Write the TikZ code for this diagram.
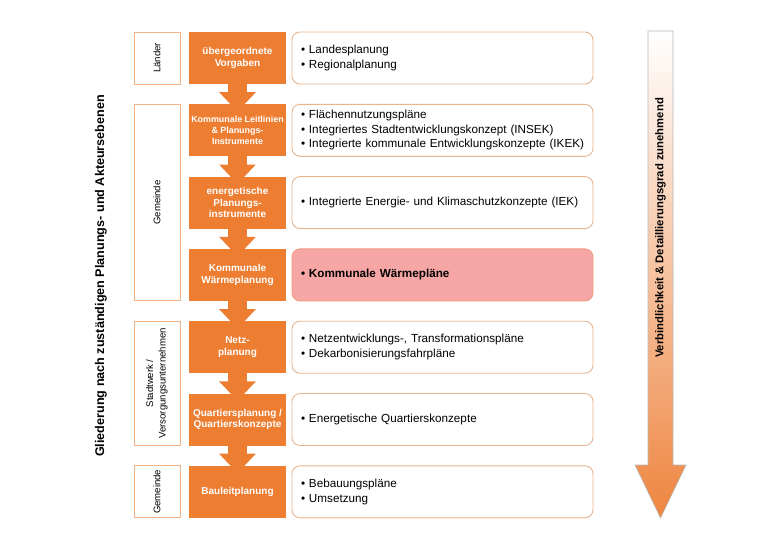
\documentclass[tikz,border=0pt]{standalone}
\usepackage{fontspec}
\setmainfont{Liberation Sans}
\usetikzlibrary{calc}
\definecolor{org}{HTML}{ED7D31}
\definecolor{actorline}{HTML}{F4B183}
\definecolor{itemline}{HTML}{E8B48E}
\definecolor{pinkfill}{HTML}{F6A6A4}
\definecolor{arrowline}{HTML}{B8B8B8}
\definecolor{arrowbot}{HTML}{EE8540}
\begin{document}
\begin{tikzpicture}[x=1pt,y=-1pt,
  stepbox/.style={fill=org, text=white, font=\fontsize{10}{11.5}\selectfont\bfseries,
    minimum width=97pt, minimum height=52pt, align=center, inner sep=0pt},
  itembox/.style={draw=itemline, line width=0.9pt, rounded corners=8pt, fill=white,
    minimum height=52pt, text width=283pt, inner xsep=9pt, inner ysep=0pt, align=left,
    font=\fontsize{11.7}{14.5}\selectfont},
  actorbox/.style={draw=actorline, line width=1pt, fill=white, minimum width=46pt,
    inner sep=0pt},
  actortext/.style={rotate=90, align=center, font=\fontsize{9.6}{12.5}\selectfont},
  flowarrow/.style={fill=org, draw=none},
  axislabel/.style={font=\fontsize{12.6}{14}\selectfont\bfseries, rotate=90}
]
\useasboundingbox (0,0) rectangle (780,547);

% actor boxes
\node[actorbox, minimum height=52pt] (a1) at (157,58) {};
\node[actortext] (t1) at (a1.center) {Länder};
\node[actorbox, minimum height=196.6pt] (a2) at (157,202.6) {};
\node[actortext] (t2) at (a2.center) {Gemeinde};
\node[actorbox, minimum height=124.3pt] (a3) at (157,383.35) {};
\node[actortext] (t3) at (a3.center) {Stadtwerk /\\Versorgungsunternehmen};
\node[actorbox, minimum height=52pt] (a4) at (157,491.8) {};
\node[actortext] (t4) at (a4.center) {Gemeinde};

% step boxes
\node[stepbox] (s1) at (237.5,58) {übergeordnete\\Vorgaben};
\node[stepbox, font=\fontsize{8.9}{11.2}\selectfont\bfseries] (s2) at (237.5,130.3) {Kommunale Leitlinien\\\& Planungs-\\Instrumente};
\node[stepbox] (s3) at (237.5,202.6) {energetische\\Planungs-\\instrumente};
\node[stepbox] (s4) at (237.5,274.9) {Kommunale\\Wärmeplanung};
\node[stepbox] (s5) at (237.5,347.2) {Netz-\\planung};
\node[stepbox] (s6) at (237.5,419.5) {Quartiersplanung /\\Quartierskonzepte};
\node[stepbox] (s7) at (237.5,491.8) {Bauleitplanung};

% flow arrows
\foreach \a/\b in {s1/s2,s2/s3,s3/s4,s4/s5,s5/s6,s6/s7}{
  \fill[flowarrow] ($(\a.south)+(-9.3,-1)$) -- ($(\a.south)+(-9.3,8)$) -- ($(\a.south)+(-18.4,8)$)
    -- ($(\b.north)+(0,7.5)$) -- ($(\a.south)+(18.4,8)$) -- ($(\a.south)+(9.3,8)$)
    -- ($(\a.south)+(9.3,-1)$) -- cycle;
}

% item boxes
\node[itembox] (i1) at (442.5,58) {\mbox{\textbullet{} Landesplanung}\\\mbox{\textbullet{} Regionalplanung}};
\node[itembox] (i2) at (442.5,130.3) {\mbox{\textbullet{} Flächennutzungspläne}\\\mbox{\textbullet{} Integriertes Stadtentwicklungskonzept (INSEK)}\\\mbox{\textbullet{} Integrierte kommunale Entwicklungskonzepte (IKEK)}};
\node[itembox] (i3) at (442.5,202.6) {\mbox{\textbullet{} Integrierte Energie- und Klimaschutzkonzepte (IEK)}};
\node[itembox, fill=pinkfill, draw=pinkfill!70!org] (i4) at (442.5,274.9) {\mbox{\bfseries\textbullet{} Kommunale Wärmepläne}};
\node[itembox] (i5) at (442.5,347.2) {\mbox{\textbullet{} Netzentwicklungs-, Transformationspläne}\\\mbox{\textbullet{} Dekarbonisierungsfahrpläne}};
\node[itembox] (i6) at (442.5,419.5) {\mbox{\textbullet{} Energetische Quartierskonzepte}};
\node[itembox] (i7) at (442.5,491.8) {\mbox{\textbullet{} Bebauungspläne}\\\mbox{\textbullet{} Umsetzung}};

% big arrow
\shade[top color=white, bottom color=arrowbot, draw=arrowline, line width=0.6pt]
  (648,31) -- (673,31) -- (673,465) -- (686,465) -- (660.5,518) -- (635,465) -- (648,465) -- cycle;
\node[axislabel, font=\fontsize{11.3}{14}\selectfont\bfseries] (lblr) at (660.5,228) {Verbindlichkeit \& Detaillierungsgrad zunehmend};

% left axis label
\node[axislabel] (lbll) at (101,276) {Gliederung nach zuständigen Planungs- und Akteursebenen};
\end{tikzpicture}
\end{document}
